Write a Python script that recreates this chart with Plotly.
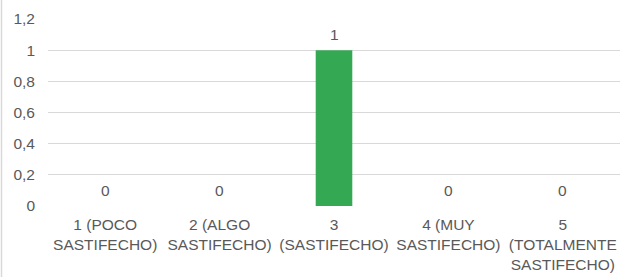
import plotly.graph_objects as go

categories = ["1 (POCO<br>SASTIFECHO)", "2 (ALGO<br>SASTIFECHO)", "3<br>(SASTIFECHO)",
              "4 (MUY<br>SASTIFECHO)", "5<br>(TOTALMENTE<br>SASTIFECHO)"]
values = [0, 0, 1, 0, 0]
y_ticks = [0, 0.2, 0.4, 0.6, 0.8, 1, 1.2]

GRAY_TEXT = "#595959"
GRID = "#D9D9D9"
GREEN = "#34A853"
FONT = "Liberation Sans, Arial, sans-serif"
FS = 15.5

fig = go.Figure()
fig.add_trace(go.Bar(x=categories, y=values, marker=dict(color=GREEN, line=dict(width=0)),
                     width=0.32, hoverinfo="skip"))

for c, v in zip(categories, values):
    fig.add_annotation(x=c, y=v, text=str(v), showarrow=False, yshift=16,
                       font=dict(family=FONT, size=FS, color=GRAY_TEXT))

fig.add_shape(type="line", xref="paper", yref="paper", x0=-46.5/572, x1=-46.5/572,
              y0=-2, y1=2, line=dict(color=GRID, width=1.5))

fig.update_layout(
    width=622, height=277,
    margin=dict(l=48, r=2, t=19, b=71, autoexpand=False),
    paper_bgcolor="white", plot_bgcolor="white",
    separators=",.",
    showlegend=False,
    font=dict(family=FONT, size=FS, color=GRAY_TEXT),
    bargap=0.68,
)
fig.update_xaxes(showgrid=False, showline=False, zeroline=False, ticks="", automargin=False,
                 ticklabelstandoff=7,
                 tickfont=dict(family=FONT, size=FS, color=GRAY_TEXT))
fig.update_yaxes(range=[0, 1.2], tickvals=y_ticks, showgrid=True, gridcolor=GRID, gridwidth=1,
                 zeroline=False, showline=False, ticks="", ticklabelstandoff=12, automargin=False,
                 tickfont=dict(family=FONT, size=FS, color=GRAY_TEXT))

fig.write_html("out.html", config={"displayModeBar": False},
               post_script="document.body.style.margin='0';document.body.style.overflow='hidden';")
